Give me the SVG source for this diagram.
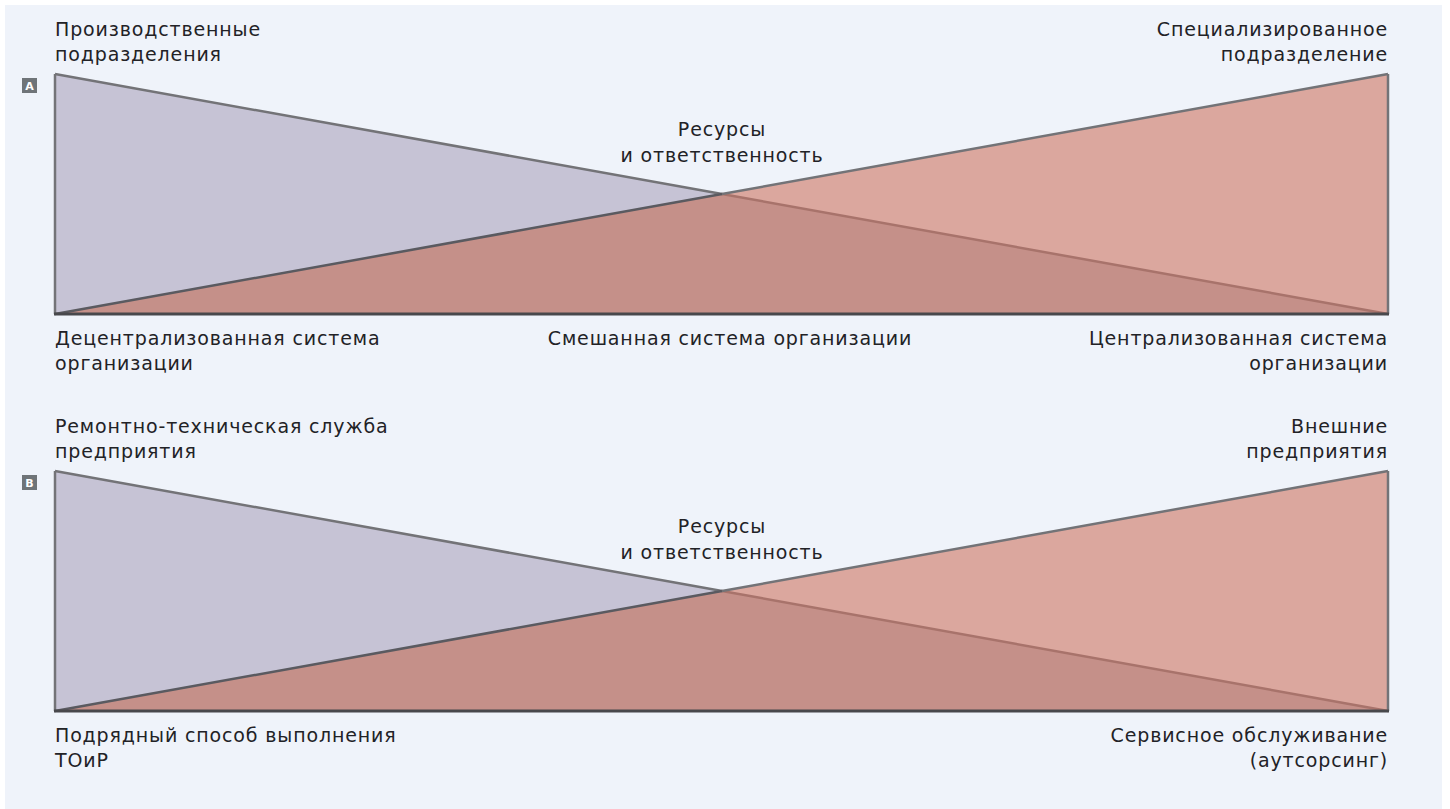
<svg xmlns="http://www.w3.org/2000/svg" width="1450" height="809" viewBox="0 0 1450 809">
<style>
.t{font-family:"DejaVu Sans","Noto Sans",sans-serif;font-size:19px;letter-spacing:0.85px;fill:#222226}
.m{text-anchor:middle}
.e{text-anchor:end}
.pu{fill:#c6c3d5}
.rd{fill:#dba79e}
.ov{fill:#c59089}
.ln{stroke:#737377;stroke-width:2.5;fill:none;stroke-linejoin:round}
.dk{stroke:#5a5a60;stroke-width:2.5;fill:none}
.br{stroke:#a8736b;stroke-width:2.5;fill:none}
.bs{stroke:#48484c;stroke-width:3;fill:none}
.bg{fill:#6f7478}
.bl{font-family:"DejaVu Sans",sans-serif;font-size:11px;font-weight:bold;fill:#ffffff;text-anchor:middle}
</style>
<rect x="0" y="0" width="1450" height="809" fill="#ffffff"/>
<rect x="5" y="5" width="1437" height="804" fill="#eff3fa"/>
<g id="panelA">
<g id="chartA">
<polygon class="pu" points="55,74 722,194 55,314"/>
<polygon class="rd" points="1388,74 1388,314 722,194"/>
<polygon class="ov" points="55,314 722,194 1388,314"/>
</g>
<g id="connectorsA">
<line class="ln" x1="55" y1="74" x2="55" y2="314"/>
<line class="ln" x1="1388" y1="74" x2="1388" y2="314"/>
<line class="ln" x1="55" y1="74" x2="722" y2="194"/>
<line class="br" x1="722" y1="194" x2="1388" y2="314"/>
<line class="dk" x1="55" y1="314" x2="722" y2="194"/>
<line class="ln" x1="722" y1="194" x2="1388" y2="74"/>
<line class="bs" x1="54" y1="314" x2="1389" y2="314"/>
</g>
<g id="badgeA"><rect class="bg" x="22" y="78" width="15" height="15"/><text class="bl" x="29.5" y="89.8">A</text></g>
<g id="labelA1"><text class="t" x="55" y="36">Производственные</text><text class="t" x="55" y="61">подразделения</text></g>
<g id="labelA2"><text class="t e" x="1388" y="36">Специализированное</text><text class="t e" x="1388" y="61">подразделение</text></g>
<g id="labelA3"><text class="t m" x="722" y="136">Ресурсы</text><text class="t m" x="722" y="162">и ответственность</text></g>
<g id="labelA4"><text class="t" x="55" y="345">Децентрализованная система</text><text class="t" x="55" y="370">организации</text></g>
<g id="labelA5"><text class="t m" x="730" y="345">Смешанная система организации</text></g>
<g id="labelA6"><text class="t e" x="1388" y="345">Централизованная система</text><text class="t e" x="1388" y="370">организации</text></g>
</g>
<g id="panelB">
<g id="chartB">
<polygon class="pu" points="55,471 722,591 55,711"/>
<polygon class="rd" points="1388,471 1388,711 722,591"/>
<polygon class="ov" points="55,711 722,591 1388,711"/>
</g>
<g id="connectorsB">
<line class="ln" x1="55" y1="471" x2="55" y2="711"/>
<line class="ln" x1="1388" y1="471" x2="1388" y2="711"/>
<line class="ln" x1="55" y1="471" x2="722" y2="591"/>
<line class="br" x1="722" y1="591" x2="1388" y2="711"/>
<line class="dk" x1="55" y1="711" x2="722" y2="591"/>
<line class="ln" x1="722" y1="591" x2="1388" y2="471"/>
<line class="bs" x1="54" y1="711" x2="1389" y2="711"/>
</g>
<g id="badgeB"><rect class="bg" x="22" y="475" width="15" height="15"/><text class="bl" x="29.5" y="486.8">B</text></g>
<g id="labelB1"><text class="t" x="55" y="433">Ремонтно-техническая служба</text><text class="t" x="55" y="458">предприятия</text></g>
<g id="labelB2"><text class="t e" x="1388" y="433">Внешние</text><text class="t e" x="1388" y="458">предприятия</text></g>
<g id="labelB3"><text class="t m" x="722" y="533">Ресурсы</text><text class="t m" x="722" y="559">и ответственность</text></g>
<g id="labelB4"><text class="t" x="55" y="742">Подрядный способ выполнения</text><text class="t" x="55" y="767">ТОиР</text></g>
<g id="labelB5"><text class="t e" x="1388" y="742">Сервисное обслуживание</text><text class="t e" x="1388" y="767">(аутсорсинг)</text></g>
</g>
</svg>
